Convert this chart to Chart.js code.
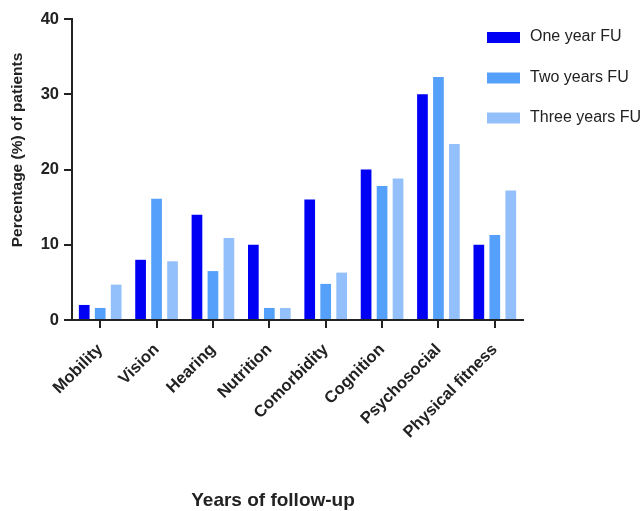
<!DOCTYPE html>
<html>
<head>
<meta charset="utf-8">
<script src="https://cdn.jsdelivr.net/npm/chart.js@4"></script>
<style>
  html, body { margin: 0; padding: 0; background: #fff; }
  #wrap { width: 643px; height: 511px; position: relative; }
</style>
</head>
<body>
<div id="wrap"><canvas id="c"></canvas></div>
<script>
const categories = ["Mobility", "Vision", "Hearing", "Nutrition", "Comorbidity", "Cognition", "Psychosocial", "Physical fitness"];
const seriesNames = ["One year FU", "Two years FU", "Three years FU"];
const oneYear   = [2, 8, 14, 10, 16, 20, 30, 10];
const twoYears  = [1.6, 16.1, 6.5, 1.6, 4.8, 17.8, 32.3, 11.3];
const threeYears = [4.7, 7.8, 10.9, 1.6, 6.3, 18.8, 23.4, 17.2];
const yTicks = [0, 10, 20, 30, 40];
const xTitle = "Years of follow-up";
const yTitle = "Percentage (%) of patients";
const colors = ["#0000F5", "#55A0FA", "#93C0FA"];

const FONT = "'Liberation Sans', Arial, Helvetica, sans-serif";
const INK = "#222222";

const titlesAndLegend = {
  id: "titlesAndLegend",
  afterDraw(chart) {
    const ctx = chart.ctx;
    ctx.save();
    ctx.fillStyle = INK;
    // x axis title
    ctx.font = "bold 19px " + FONT;
    ctx.textAlign = "center";
    ctx.textBaseline = "middle";
    ctx.fillText(xTitle, 273, 501);
    // y axis title
    ctx.save();
    ctx.translate(18, 150);
    ctx.rotate(-Math.PI / 2);
    ctx.font = "bold 15.5px " + FONT;
    ctx.fillText(yTitle, 0, 0);
    ctx.restore();
    // legend
    const rowsY = [37, 77.5, 117.5];
    chart.data.datasets.forEach((ds, i) => {
      ctx.fillStyle = ds.backgroundColor;
      ctx.fillRect(487, rowsY[i] - 5, 33, 11);
      ctx.fillStyle = INK;
      ctx.font = "16px " + FONT;
      ctx.textAlign = "left";
      ctx.textBaseline = "middle";
      ctx.fillText(ds.label, 530, rowsY[i]);
    });
    ctx.restore();
  }
};

new Chart(document.getElementById("c"), {
  type: "bar",
  data: {
    labels: categories,
    datasets: [
      { label: seriesNames[0], data: oneYear, backgroundColor: colors[0] },
      { label: seriesNames[1], data: twoYears, backgroundColor: colors[1] },
      { label: seriesNames[2], data: threeYears, backgroundColor: colors[2] }
    ]
  },
  options: {
    responsive: true,
    maintainAspectRatio: false,
    animation: false,
    devicePixelRatio: 1,
    datasets: { bar: { categoryPercentage: 0.85, barPercentage: 0.67 } },
    layout: { padding: { left: 0, top: 19, right: 120, bottom: 0 } },
    plugins: { legend: { display: false }, tooltip: { enabled: false } },
    scales: {
      x: {
        offset: true,
        grid: { display: true, drawOnChartArea: false, drawTicks: true, tickLength: 8, offset: false, color: INK, lineWidth: 2 },
        border: { display: true, color: INK, width: 2 },
        ticks: {
          color: INK, maxRotation: 45, minRotation: 45, autoSkip: false, padding: 12,
          font: { family: FONT, size: 16.5, weight: "bold" }
        },
        afterFit(s) { s.height = 191; }
      },
      y: {
        min: 0, max: 40,
        afterBuildTicks(s) { s.ticks = yTicks.map(v => ({ value: v })); },
        grid: { display: true, drawOnChartArea: false, drawTicks: true, tickLength: 8, color: INK, lineWidth: 2 },
        border: { display: true, color: INK, width: 2 },
        ticks: {
          color: INK, padding: 5,
          font: { family: FONT, size: 16.5, weight: "bold" }
        },
        afterFit(s) { s.width = 72; }
      }
    }
  },
  plugins: [titlesAndLegend]
});
</script>
</body>
</html>
